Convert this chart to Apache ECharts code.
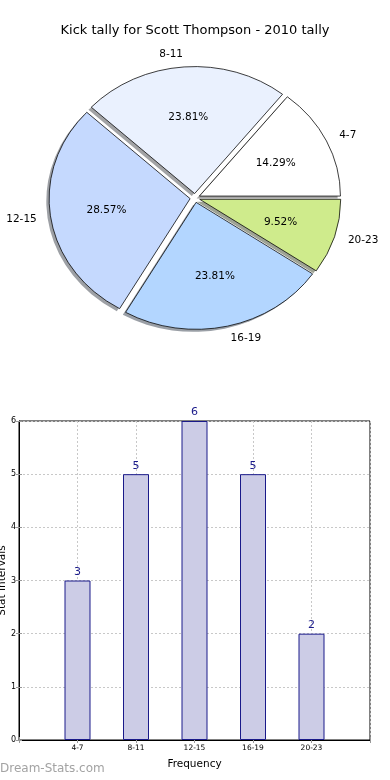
<!DOCTYPE html>
<html><head><meta charset="utf-8">
<script src="https://cdn.jsdelivr.net/npm/echarts@6/dist/echarts.min.js"></script>
<style>html,body{margin:0;padding:0;background:#fff}#c{width:390px;height:780px}</style>
</head><body><div id="c"></div>
<script>
// ---- data ----
const chartTitle = 'Kick tally for Scott Thompson - 2010 tally';
const categories = ['4-7', '8-11', '12-15', '16-19', '20-23'];
const counts = [3, 5, 6, 5, 2];
const sliceColors = ['#ffffff', '#eaf1fe', '#c5d9fe', '#b3d6ff', '#cfeb8c'];
const yTicks = [0, 1, 2, 3, 4, 5, 6];
const xAxisName = 'Frequency';
const yAxisName = 'Stat Intervals';
const watermark = 'Dream-Stats.com';

// ---- pie geometry (matplotlib-like elliptical, exploded, shadowed) ----
const FONT = 'DejaVu Sans';
const CX = 195, CY = 198, RX = 141, RY = 127, EXP = 0.035;
const SHX = -2.8, SHY = 2.5;
const total = counts.reduce((a, b) => a + b, 0);
const starts = [];
(function () { let acc = 0; counts.forEach(v => { starts.push(acc); acc += v; }); })();

function geom(i, v) {
  const a0 = starts[i] / total * 2 * Math.PI;
  const a1 = (starts[i] + v) / total * 2 * Math.PI;
  const mid = (a0 + a1) / 2;
  const ox = CX + EXP * RX * Math.cos(mid);
  const oy = CY - EXP * RY * Math.sin(mid);
  return { a0, a1, mid, ox, oy };
}
function shade(hex) {
  const n = parseInt(hex.slice(1), 16);
  const r = Math.round(((n >> 16) & 255) * 0.3), g = Math.round(((n >> 8) & 255) * 0.3), b = Math.round((n & 255) * 0.3);
  return 'rgb(' + r + ',' + g + ',' + b + ')';
}
function wedge(g, dx, dy, style) {
  return {
    type: 'group', x: g.ox + dx, y: g.oy + dy, scaleY: RY / RX,
    children: [{
      type: 'sector',
      shape: { cx: 0, cy: 0, r: RX, r0: 0, startAngle: -g.a0, endAngle: -g.a1, clockwise: false },
      style: style
    }]
  };
}

const chart = echarts.init(document.getElementById('c'), null, { renderer: 'canvas' });
chart.setOption({
  animation: false,
  backgroundColor: '#fff',
  textStyle: { fontFamily: FONT },
  title: {
    text: chartTitle, left: 'center', top: 19,
    textStyle: { fontFamily: FONT, fontSize: 13, fontWeight: 'normal', color: '#000' }
  },
  graphic: [{
    type: 'text', left: 0, top: 763,
    style: { text: watermark, fontFamily: FONT, fontSize: 12, fill: '#a3a3a3' }
  }],
  grid: {
    left: 19, right: 20, top: 421, bottom: 40,
    outerBoundsMode: 'none', containLabel: false,
    show: true, borderColor: '#000', borderWidth: 1, backgroundColor: 'transparent'
  },
  xAxis: [{
    type: 'value', min: 0, max: categories.length + 1, interval: 1, position: 'bottom',
    axisLine: { show: true, lineStyle: { color: '#000', width: 1 } },
    axisTick: { show: true, inside: true, length: 3, lineStyle: { color: '#999' } },
    axisLabel: { formatter: v => categories[v - 1] || '', fontFamily: FONT, fontSize: 7.5, color: '#000', margin: 4 },
    splitLine: { show: true, lineStyle: { type: [2, 2], color: '#c8c8c8', width: 1 } },
    name: xAxisName, nameLocation: 'middle', nameGap: 19, nameMoveOverlap: false,
    nameTextStyle: { fontFamily: FONT, fontSize: 10.5, color: '#000' }
  }, {
    type: 'value', min: 0, max: categories.length + 1, interval: 1, position: 'top',
    axisLine: { show: false }, axisLabel: { show: false }, splitLine: { show: false },
    axisTick: { show: true, inside: true, length: 3, lineStyle: { color: '#999' } }
  }],
  yAxis: [{
    type: 'value', min: yTicks[0], max: yTicks[yTicks.length - 1], interval: 1, position: 'left',
    axisLine: { show: true, lineStyle: { color: '#000', width: 1 } },
    axisTick: { show: true, inside: true, length: 3, lineStyle: { color: '#999' } },
    axisLabel: { fontFamily: FONT, fontSize: 8, color: '#000', margin: 3 },
    splitLine: { show: true, lineStyle: { type: [2, 2], color: '#c8c8c8', width: 1 } },
    name: yAxisName, nameLocation: 'middle', nameGap: 11, nameRotate: 90, nameMoveOverlap: false,
    nameTextStyle: { fontFamily: FONT, fontSize: 10.5, color: '#000' }
  }, {
    type: 'value', min: yTicks[0], max: yTicks[yTicks.length - 1], interval: 1, position: 'right',
    axisLine: { show: false }, axisLabel: { show: false }, splitLine: { show: false },
    axisTick: { show: true, inside: true, length: 3, lineStyle: { color: '#999' } }
  }],
  series: [
    {
      type: 'custom', coordinateSystem: 'none', z: 1, silent: true,
      data: counts,
      renderItem: function (params, api) {
        const i = params.dataIndex, v = api.value(0);
        const g = geom(i, v);
        return wedge(g, SHX, SHY, { fill: shade(sliceColors[i]), opacity: 0.5, stroke: null, lineWidth: 0 });
      }
    },
    {
      type: 'custom', coordinateSystem: 'none', z: 2, silent: true,
      data: counts,
      renderItem: function (params, api) {
        const i = params.dataIndex, v = api.value(0);
        const g = geom(i, v);
        const c = Math.cos(g.mid), s = Math.sin(g.mid);
        return {
          type: 'group',
          children: [
            wedge(g, 0, 0, { fill: sliceColors[i], stroke: '#000', lineWidth: 0.8, strokeNoScale: true }),
            {
              type: 'text', x: g.ox + 0.6 * RX * c, y: g.oy - 0.6 * RY * s,
              style: { text: (v / total * 100).toFixed(2) + '%', fontFamily: FONT, fontSize: 10.5, fill: '#000', align: 'center', verticalAlign: 'middle' }
            },
            {
              type: 'text', x: g.ox + 1.1 * RX * c, y: g.oy - 1.1 * RY * s,
              style: { text: categories[i], fontFamily: FONT, fontSize: 10.5, fill: '#000', align: c > 0 ? 'left' : 'right', verticalAlign: 'middle' }
            }
          ]
        };
      }
    },
    {
      type: 'bar', xAxisIndex: 0, yAxisIndex: 0,
      data: counts.map((v, i) => [i + 1, v]),
      barWidth: 26,
      itemStyle: { color: '#ccccE6', borderColor: '#1a1a8a', borderWidth: 1 },
      label: { show: true, position: 'top', distance: 3, color: '#1a1a8a', fontFamily: FONT, fontSize: 11 }
    }
  ]
});
</script>
</body></html>
